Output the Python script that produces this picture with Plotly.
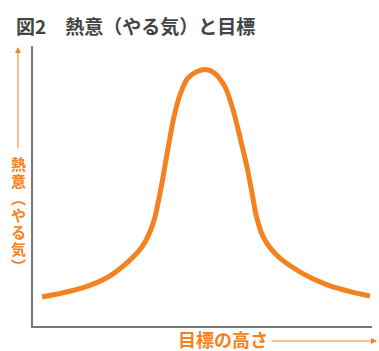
import plotly.graph_objects as go

# Data (arbitrary units: goal height vs. enthusiasm)
goal_height = [0.27, 0.86, 1.54, 2.23, 2.82, 3.23, 3.47, 3.62, 3.71, 3.80, 3.92, 4.04, 4.18,
               4.36, 4.60, 4.87, 5.13, 5.40, 5.70, 5.94, 6.14, 6.35, 6.50, 6.62, 6.83,
               7.09, 7.39, 7.98, 8.75, 9.47, 10.0]
enthusiasm = [1.04, 1.18, 1.39, 1.75, 2.29, 2.82, 3.36, 3.89, 4.39, 4.93, 5.75, 6.57, 7.46,
              8.25, 8.86, 9.09, 9.16, 9.02, 8.54, 7.71, 6.75, 5.68, 4.75, 3.96, 3.18,
              2.71, 2.36, 1.89, 1.46, 1.21, 1.07]

title_text = "図2　熱意（やる気）と目標"
x_label = "目標の高さ"
y_label = "熱意︵やる気︶"

W, H = 379, 351
L, R, T, B = 33, 7, 46, 25
PW, PH = W - L - R, H - T - B

def px(x):
    return (x - L) / PW

def py(y):
    return (H - B - y) / PH

ORANGE = "#F58220"
FONT = "Noto Sans CJK JP"

fig = go.Figure()
fig.add_trace(go.Scatter(
    x=goal_height, y=enthusiasm, mode="lines",
    line=dict(color=ORANGE, width=5, shape="spline", smoothing=0.7),
    hoverinfo="skip", showlegend=False,
))

ann = []
# title
ann.append(dict(text="<b>" + title_text + "</b>", x=px(14), y=py(25), xref="paper", yref="paper",
                xanchor="left", yanchor="middle", showarrow=False,
                font=dict(family=FONT, size=19, color="#444444")))
# x label
ann.append(dict(text="<b>" + x_label + "</b>", x=px(176), y=py(339), xref="paper", yref="paper",
                xanchor="left", yanchor="middle", showarrow=False,
                font=dict(family=FONT, size=18, color=ORANGE)))
# x arrow
ann.append(dict(text="", x=px(377), y=py(341), xref="paper", yref="paper",
                showarrow=True, ax=-107, ay=0, arrowhead=2, arrowsize=1.2,
                arrowwidth=1, arrowcolor=ORANGE))
# y arrow
ann.append(dict(text="", x=px(18), y=py(47), xref="paper", yref="paper",
                showarrow=True, ax=0, ay=103, arrowhead=2, arrowsize=1.2,
                arrowwidth=1, arrowcolor=ORANGE))
# vertical y label, one character per line
for i, ch in enumerate(y_label):
    ann.append(dict(text="<b>" + ch + "</b>", x=px(18), y=py(163 + 17 * i), xref="paper", yref="paper",
                    xanchor="center", yanchor="middle", showarrow=False,
                    font=dict(family=FONT, size=15, color=ORANGE)))

fig.update_layout(
    width=W, height=H, margin=dict(l=L, r=R, t=T, b=B),
    paper_bgcolor="white", plot_bgcolor="white",
    annotations=ann,
    xaxis=dict(range=[0, PW / 33.7], showgrid=False, zeroline=False, showticklabels=False,
               ticks="", showline=True, linecolor="#777777", linewidth=1.5, fixedrange=True),
    yaxis=dict(range=[0, 10], showgrid=False, zeroline=False, showticklabels=False,
               ticks="", showline=True, linecolor="#777777", linewidth=1.5, fixedrange=True),
)

fig.write_html("out.html", config={"displayModeBar": False})
